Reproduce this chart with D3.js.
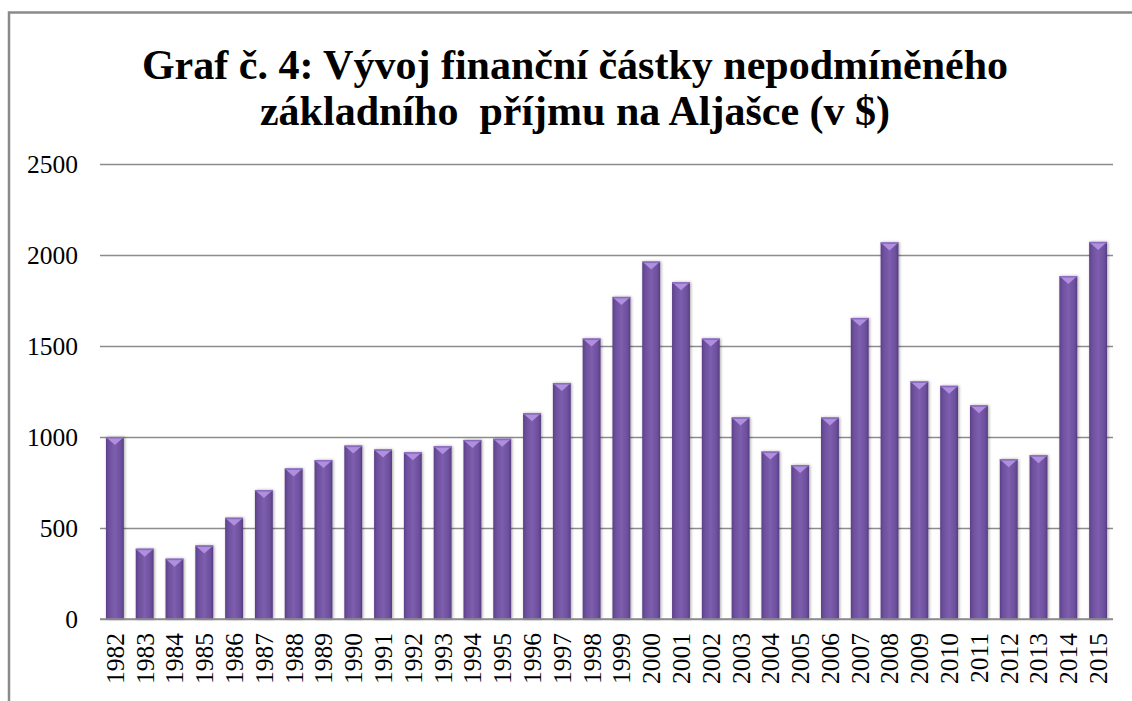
<!DOCTYPE html>
<html><head><meta charset="utf-8">
<script src="https://cdn.jsdelivr.net/npm/d3@7"></script>
<style>body{margin:0;background:#fff}svg{display:block}
text{font-family:"Liberation Serif","Times New Roman",serif}</style>
</head><body>
<svg id="c" width="1132" height="701"></svg>
<script>
const years = ["1982","1983","1984","1985","1986","1987","1988","1989","1990","1991","1992","1993","1994","1995","1996","1997","1998","1999","2000","2001","2002","2003","2004","2005","2006","2007","2008","2009","2010","2011","2012","2013","2014","2015"];
const amounts = [1000,386.15,331.29,404,556.26,708.19,826.93,873.16,952.63,931.34,915.84,949.46,983.9,990.3,1130.68,1296.54,1540.88,1769.84,1963.86,1850.28,1540.76,1107.56,919.84,845.76,1106.96,1654,2069,1305,1281,1174,878,900,1884,2072];
const yTicks = [0,500,1000,1500,2000,2500];
const titleLines = ["Graf č. 4: Vývoj finanční částky nepodmíněného","základního  příjmu na Aljašce (v $)"];

const FONT = "'Liberation Serif','Times New Roman',serif";
const svg = d3.select("#c");
const m = {l:100, r:1113, t:164, b:619};
const x = d3.scaleBand().domain(years).range([m.l, m.r]).paddingInner(0.4).paddingOuter(0.2);
const y = d3.scaleLinear().domain([0,2500]).range([m.b, m.t]);

const defs = svg.append("defs");
const g = defs.append("linearGradient").attr("id","bar").attr("x1","0").attr("x2","1").attr("y1","0").attr("y2","0");
g.append("stop").attr("offset","0").attr("stop-color","#5a3f86");
g.append("stop").attr("offset","0.15").attr("stop-color","#6c4f9c");
g.append("stop").attr("offset","0.5").attr("stop-color","#7d5eae");
g.append("stop").attr("offset","0.85").attr("stop-color","#6c4f9c");
g.append("stop").attr("offset","1").attr("stop-color","#553c80");
const f = defs.append("filter").attr("id","sh").attr("x","-30%").attr("y","-10%").attr("width","160%").attr("height","120%");
f.append("feDropShadow").attr("dx",1).attr("dy",0).attr("stdDeviation",1.5).attr("flood-color","#000").attr("flood-opacity",0.35);

// frame
svg.append("path").attr("d","M9,701 V12.5 H1132").attr("fill","none").attr("stroke","#8a8a8a").attr("stroke-width",2.5);

// title
svg.append("g").selectAll("text").data(titleLines).join("text")
  .attr("x",575).attr("y",(d,i)=>79+i*46)
  .attr("text-anchor","middle").attr("xml:space","preserve")
  .attr("font-family",FONT).attr("font-weight","bold").attr("font-size",42).attr("fill","#000")
  .text(d=>d);

// grid
const yAxis = d3.axisLeft(y).tickValues(yTicks).tickSize(-(m.r-m.l)).tickFormat(d3.format("d")).tickPadding(22);
const ga = svg.append("g").attr("transform",`translate(${m.l},0)`).call(yAxis)
  .attr("font-family",FONT).attr("font-size",25.5);
ga.select(".domain").remove();
ga.selectAll(".tick line").attr("stroke","#8c8c8c").attr("stroke-width",1.5);
ga.selectAll(".tick text").attr("fill","#000").attr("dy","0.32em");

// bars
const bw = x.bandwidth();
const bars = svg.append("g").selectAll("g").data(years.map((yr,i)=>({yr,v:amounts[i]}))).join("g");
bars.append("rect").attr("x",d=>x(d.yr)).attr("y",d=>y(d.v)).attr("width",bw).attr("height",d=>y(0)-y(d.v))
  .attr("fill","url(#bar)").attr("filter","url(#sh)");
bars.append("path").attr("d",d=>{const x0=x(d.yr),t=y(d.v);return `M${x0},${t} H${x0+bw} L${x0+bw/2},${t+8} Z`;})
  .attr("fill","#b08fe0");
bars.append("rect").attr("x",d=>x(d.yr)).attr("y",d=>y(d.v)).attr("width",bw).attr("height",1.5).attr("fill","#8a6bbd");

// x axis
const xAxis = d3.axisBottom(x).tickSize(0).tickPadding(0);
const gx = svg.append("g").attr("transform",`translate(0,${m.b})`).call(xAxis)
  .attr("font-family",FONT).attr("font-size",25.5);
gx.select(".domain").attr("stroke","#8c8c8c").attr("stroke-width",1.5).attr("d",`M${m.l},0H${m.r}`);
gx.selectAll(".tick text").attr("transform","rotate(-90)").attr("x",-14).attr("y",0).attr("dy","0.35em")
  .attr("text-anchor","end").attr("fill","#000");
</script>
</body></html>
